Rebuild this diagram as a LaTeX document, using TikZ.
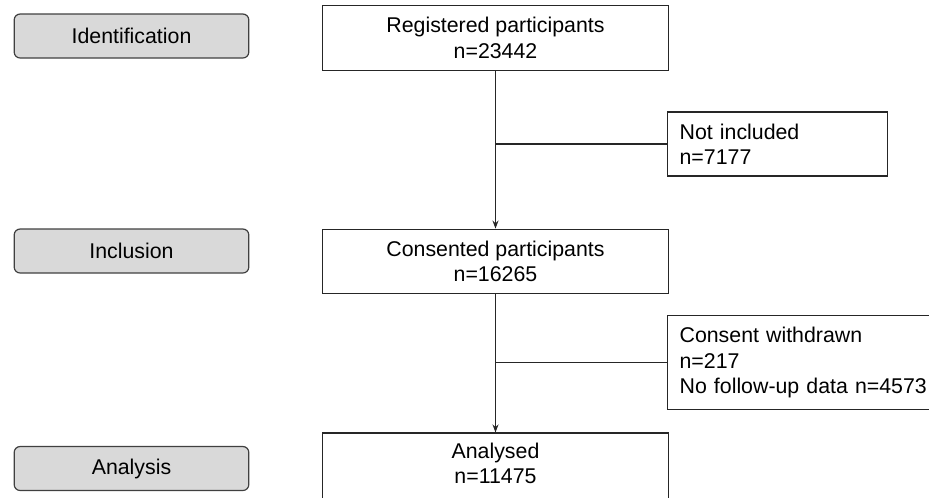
\documentclass[tikz,border=0pt]{standalone}
\usepackage{fontspec}
\setmainfont{Liberation Sans}
\usetikzlibrary{arrows.meta}
\tikzset{
  stage/.style={draw=black!75, line width=0.9pt, fill=black!15, rounded corners=4.5pt,
    minimum width=176pt, minimum height=33pt, inner sep=0pt},
  mainbox/.style={draw=black!85, line width=0.9pt, fill=white, align=center,
    minimum width=259pt, minimum height=48.5pt, inner sep=0pt},
  sidebox/.style={draw=black!85, line width=0.9pt, fill=white, align=left,
    anchor=west, inner xsep=9pt, inner ysep=0pt},
  flow/.style={draw=black!85, line width=0.9pt},
}

\begin{document}
\begin{tikzpicture}[x=0.75pt,y=-0.75pt,font=\fontsize{16}{19}\selectfont]
\useasboundingbox (0,0) rectangle (929,497);
% stages on the left
\node[stage] (ident) at (131.5,36) {Identification};
\node[stage] (incl) at (131.5,251) {Inclusion};
\node[stage] (anal) at (131.5,468.5) {Analysis};
% main flow
\node[mainbox] (reg) at (495.5,38) {Registered participants\\n=23442};
\node[mainbox] (cons) at (495.5,261.5) {Consented participants\\n=16265};
% bottom box runs off the page
\node[mainbox, minimum height=70pt] (done) at (495.5,479.7) {Analysed\\n=11475\\\strut};
% exclusions
\node[sidebox, minimum width=165pt, minimum height=48pt, text width=147pt] (notinc) at (667,144) {Not included\\n=7177};
\node[sidebox, minimum height=71pt, text width=250pt] (withdr) at (667,362.5) {Consent withdrawn\\n=217\\No follow-up data n=4573};
\draw[flow, -{Stealth[length=6pt,width=4.5pt]}] (reg.south) -- (cons.north);
\draw[flow, -{Stealth[length=6pt,width=4.5pt]}] (cons.south) -- (done.north);
\draw[flow] (notinc.west) -- (notinc.west -| reg.south);
\draw[flow] (withdr.west) -- (withdr.west -| cons.south);
\end{tikzpicture}
\end{document}
